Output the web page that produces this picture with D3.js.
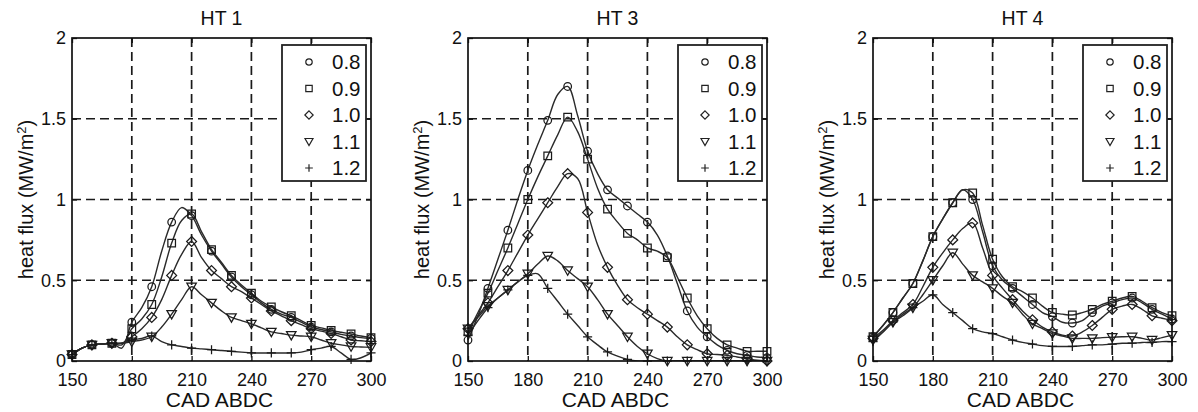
<!DOCTYPE html>
<html><head><meta charset="utf-8">
<script src="https://cdn.jsdelivr.net/npm/d3@7"></script>
<style>
body{margin:0;background:#fff}
svg{display:block}
text{font-family:"Liberation Sans",Arial,Helvetica,sans-serif;fill:#111}
</style>
</head><body><svg id="c" width="1198" height="412"></svg>
<script>
// ---------- data ----------
const cad = [150,155,160,165,170,175,180,185,190,195,200,205,210,215,220,225,230,235,240,245,250,255,260,265,270,275,280,285,290,295,300];
const seriesNames = ["0.8","0.9","1.0","1.1","1.2"];
const markerTypes = ["circle","square","diamond","triangle","plus"];
const panelTitles = ["HT 1","HT 3","HT 4"];
const xTicks = [150,180,210,240,270,300];
const yTicks = [0,0.5,1,1.5,2];
const yTickLabels = ["0","0.5","1","1.5","2"];
const xGrid = [180,210,240,270];
const yGrid = [0.5,1,1.5];

// HT 1
const ht1_08 = [0.04,0.08,0.10,0.105,0.11,0.08,0.24,0.33,0.46,0.68,0.86,0.95,0.90,0.78,0.68,0.60,0.52,0.46,0.41,0.36,0.32,0.29,0.27,0.24,0.21,0.195,0.18,0.165,0.155,0.145,0.14];
const ht1_09 = [0.04,0.08,0.10,0.105,0.11,0.10,0.20,0.26,0.35,0.52,0.73,0.87,0.91,0.80,0.69,0.61,0.53,0.47,0.42,0.37,0.335,0.305,0.28,0.25,0.22,0.205,0.19,0.178,0.167,0.155,0.145];
const ht1_10 = [0.04,0.08,0.10,0.105,0.11,0.11,0.15,0.20,0.27,0.38,0.53,0.66,0.74,0.64,0.56,0.51,0.46,0.43,0.39,0.35,0.31,0.28,0.25,0.225,0.20,0.185,0.17,0.15,0.13,0.125,0.12];
const ht1_11 = [0.04,0.08,0.10,0.105,0.11,0.11,0.12,0.13,0.15,0.21,0.29,0.38,0.46,0.41,0.36,0.31,0.27,0.25,0.23,0.205,0.18,0.17,0.16,0.155,0.15,0.13,0.11,0.10,0.09,0.087,0.085];
const ht1_12 = [0.04,0.08,0.10,0.105,0.11,0.11,0.13,0.14,0.155,0.12,0.10,0.09,0.08,0.075,0.07,0.065,0.06,0.055,0.05,0.05,0.05,0.05,0.05,0.055,0.07,0.08,0.09,0.05,0.01,0.02,0.05];

// HT 3
const ht3_08 = [0.13,0.28,0.45,0.63,0.81,1.00,1.18,1.34,1.49,1.65,1.70,1.52,1.30,1.16,1.06,1.01,0.96,0.91,0.86,0.78,0.65,0.48,0.31,0.21,0.15,0.10,0.066,0.045,0.035,0.025,0.02];
const ht3_09 = [0.18,0.30,0.42,0.56,0.70,0.85,1.00,1.14,1.27,1.40,1.51,1.42,1.25,1.07,0.94,0.86,0.79,0.75,0.70,0.68,0.64,0.52,0.39,0.28,0.20,0.14,0.10,0.08,0.06,0.06,0.06];
const ht3_10 = [0.20,0.28,0.36,0.46,0.56,0.67,0.78,0.88,0.98,1.08,1.16,1.13,0.92,0.72,0.58,0.47,0.38,0.33,0.29,0.25,0.21,0.15,0.10,0.07,0.045,0.04,0.035,0.025,0.015,0.005,0.0];
const ht3_11 = [0.20,0.27,0.34,0.39,0.44,0.49,0.54,0.60,0.65,0.62,0.56,0.51,0.46,0.38,0.29,0.22,0.15,0.09,0.045,0.015,0.0,0.0,0.0,0.0,0.0,0.0,0.0,0.0,0.0,0.0,0.0];
const ht3_12 = [0.16,0.25,0.33,0.39,0.44,0.49,0.53,0.54,0.45,0.37,0.29,0.22,0.15,0.10,0.056,0.03,0.01,0.0,0.0,0.0,0.0,0.0,0.0,0.0,0.0,0.0,0.0,0.0,0.0,0.0,0.0];

// HT 4
const ht4_08 = [0.15,0.22,0.30,0.39,0.48,0.62,0.77,0.88,0.98,1.06,1.00,0.80,0.59,0.50,0.45,0.40,0.35,0.30,0.275,0.24,0.235,0.25,0.30,0.34,0.36,0.38,0.39,0.36,0.32,0.29,0.26];
const ht4_09 = [0.15,0.22,0.30,0.39,0.48,0.62,0.77,0.88,0.98,1.06,1.04,0.84,0.63,0.52,0.46,0.43,0.39,0.34,0.30,0.29,0.285,0.30,0.32,0.35,0.37,0.39,0.40,0.37,0.33,0.30,0.28];
const ht4_10 = [0.14,0.19,0.25,0.30,0.35,0.46,0.58,0.67,0.75,0.82,0.855,0.70,0.53,0.45,0.38,0.31,0.255,0.21,0.18,0.16,0.155,0.18,0.22,0.27,0.32,0.34,0.35,0.32,0.28,0.265,0.25];
const ht4_11 = [0.13,0.18,0.24,0.28,0.33,0.41,0.50,0.59,0.67,0.60,0.53,0.49,0.45,0.40,0.36,0.29,0.23,0.20,0.17,0.155,0.14,0.14,0.14,0.145,0.147,0.15,0.15,0.14,0.13,0.145,0.16];
const ht4_12 = [0.12,0.18,0.24,0.29,0.33,0.37,0.41,0.35,0.30,0.25,0.20,0.18,0.17,0.15,0.13,0.115,0.105,0.095,0.09,0.09,0.09,0.095,0.10,0.10,0.105,0.11,0.11,0.115,0.115,0.12,0.12];

const panelData = [
  [ht1_08, ht1_09, ht1_10, ht1_11, ht1_12],
  [ht3_08, ht3_09, ht3_10, ht3_11, ht3_12],
  [ht4_08, ht4_09, ht4_10, ht4_11, ht4_12]
];

// ---------- layout ----------
const lefts = [72, 468, 873];
const plotTop = 38, W = 299, H = 323;
const svg = d3.select("#c");

function markerPath(type, s) {
  const p = d3.path();
  if (type === "circle") { p.moveTo(s, 0); p.arc(0, 0, s, 0, 2 * Math.PI); }
  else if (type === "square") { p.rect(-s, -s, 2 * s, 2 * s); }
  else if (type === "diamond") { const d = s * 1.3; p.moveTo(0, -d); p.lineTo(d, 0); p.lineTo(0, d); p.lineTo(-d, 0); p.closePath(); }
  else if (type === "triangle") { const d = s * 1.25; p.moveTo(-d, -d * 0.75); p.lineTo(d, -d * 0.75); p.lineTo(0, d); p.closePath(); }
  else { const d = s * 1.2; p.moveTo(-d, 0); p.lineTo(d, 0); p.moveTo(0, -d); p.lineTo(0, d); }
  return p.toString();
}

panelData.forEach((series, pi) => {
  const g = svg.append("g").attr("transform", `translate(${lefts[pi]},${plotTop})`);
  const x = d3.scaleLinear().domain([150, 300]).range([0, W]);
  const y = d3.scaleLinear().domain([0, 2]).range([H, 0]);

  // grid
  g.selectAll(".gx").data(xGrid).enter().append("line")
    .attr("x1", d => x(d)).attr("x2", d => x(d)).attr("y1", 0).attr("y2", H)
    .attr("stroke", "#1a1a1a").attr("stroke-width", 1.7).attr("stroke-dasharray", "9,5");
  g.selectAll(".gy").data(yGrid).enter().append("line")
    .attr("y1", d => y(d)).attr("y2", d => y(d)).attr("x1", 0).attr("x2", W)
    .attr("stroke", "#1a1a1a").attr("stroke-width", 1.7).attr("stroke-dasharray", "9,5");

  // axes
  const ax = g.append("g").attr("transform", `translate(0,${H})`)
    .call(d3.axisBottom(x).tickValues(xTicks).tickSize(-5).tickPadding(12).tickFormat(d3.format("d")));
  const ay = g.append("g")
    .call(d3.axisLeft(y).tickValues(yTicks).tickSize(-5).tickPadding(6).tickFormat((d, i) => yTickLabels[i]));
  const at = g.append("g").call(d3.axisTop(x).tickValues(xTicks).tickSize(-5).tickFormat(""));
  const ar = g.append("g").attr("transform", `translate(${W},0)`)
    .call(d3.axisRight(y).tickValues(yTicks).tickSize(-5).tickFormat(""));
  [ax, ay, at, ar].forEach(a => {
    a.select(".domain").remove();
    a.selectAll(".tick line").attr("stroke", "#111").attr("stroke-width", 1.3);
    a.selectAll("text").style("font-size", "18px").attr("fill", "#111");
  });

  // clip
  const cid = "clip" + pi;
  g.append("clipPath").attr("id", cid).append("rect").attr("x", 0).attr("y", -2).attr("width", W).attr("height", H + 2);

  const line = d3.line().x((d, i) => x(cad[i])).y(d => y(d)).curve(d3.curveCatmullRom.alpha(0.5));
  const plot = g.append("g").attr("clip-path", `url(#${cid})`);
  series.forEach((vals, si) => {
    plot.append("path").attr("d", line(vals)).attr("fill", "none")
      .attr("stroke", "#2a2a2a").attr("stroke-width", 1.4);
  });
  series.forEach((vals, si) => {
    const pts = vals.map((v, i) => ({ c: cad[i], v })).filter(d => d.c % 10 === 0);
    g.selectAll(null).data(pts).enter().append("path")
      .attr("transform", d => `translate(${x(d.c)},${y(d.v)})`)
      .attr("d", markerPath(markerTypes[si], 3.8))
      .attr("fill", "none").attr("stroke", "#1a1a1a").attr("stroke-width", 1.25);
  });

  // frame
  g.append("rect").attr("width", W).attr("height", H).attr("fill", "none")
    .attr("stroke", "#111").attr("stroke-width", 1.7);

  // title
  g.append("text").attr("x", W / 2).attr("y", 25 - plotTop).attr("text-anchor", "middle")
    .style("font-size", "19.5px").text(panelTitles[pi]);

  // x label
  g.append("text").attr("x", W / 2 - 2).attr("y", 407 - plotTop).attr("text-anchor", "middle")
    .style("font-size", "21px").text("CAD ABDC");

  // y label
  const yl = g.append("text").attr("transform", `translate(-39,${H / 2}) rotate(-90)`)
    .attr("text-anchor", "middle").style("font-size", "20px");
  yl.append("tspan").text("heat flux (MW/m");
  yl.append("tspan").attr("dy", -7).style("font-size", "13px").text("2");
  yl.append("tspan").attr("dy", 7).text(")");

  // legend
  const lx = W - 89, ly = 7, lw = 84, lh = 136;
  const lg = g.append("g").attr("transform", `translate(${lx},${ly})`);
  lg.append("rect").attr("width", lw).attr("height", lh).attr("fill", "#fff")
    .attr("stroke", "#222").attr("stroke-width", 1.8);
  seriesNames.forEach((nm, si) => {
    const cy = 17 + si * 26.5;
    lg.append("path").attr("transform", `translate(27,${cy})`)
      .attr("d", markerPath(markerTypes[si], 3.2))
      .attr("fill", "none").attr("stroke", "#222").attr("stroke-width", 1.2);
    lg.append("text").attr("x", 50).attr("y", cy).attr("dy", "0.36em")
      .style("font-size", "20.5px").text(nm);
  });
});
</script>
</body></html>
